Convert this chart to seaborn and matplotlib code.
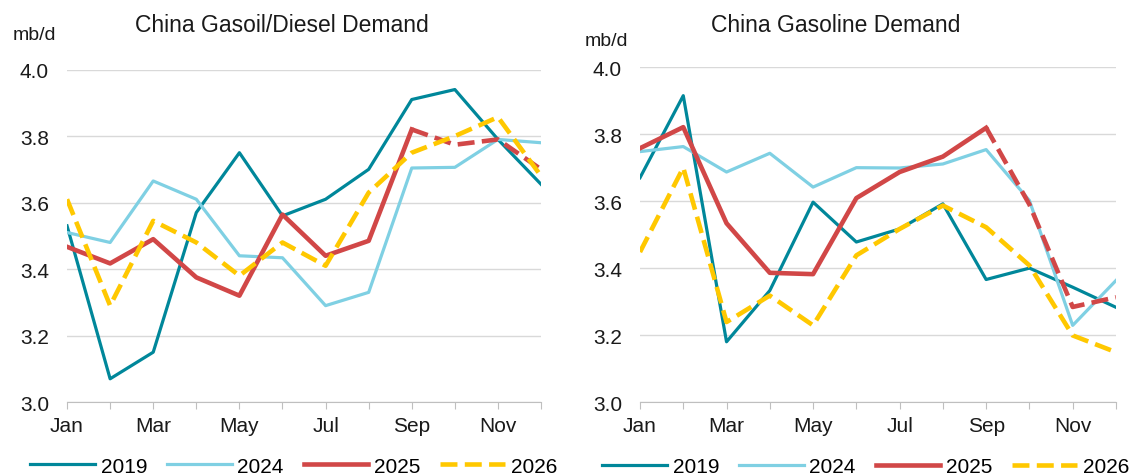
import numpy as np
import pandas as pd
import matplotlib
matplotlib.use("Agg")
import matplotlib.pyplot as plt
import seaborn as sns

# Data (mb/d)
months = ["Jan", "Feb", "Mar", "Apr", "May", "Jun", "Jul", "Aug", "Sep", "Oct", "Nov", "Dec"]
years = ["2019", "2024", "2025", "2026"]

diesel_2019 = [3.53, 3.07, 3.15, 3.57, 3.75, 3.56, 3.61, 3.70, 3.91, 3.94, 3.79, 3.655]
diesel_2024 = [3.51, 3.48, 3.665, 3.61, 3.44, 3.434, 3.29, 3.33, 3.704, 3.706, 3.79, 3.78]
diesel_2025 = [3.467, 3.417, 3.49, 3.375, 3.32, 3.564, 3.44, 3.485, 3.82, 3.774, 3.79, 3.70]
diesel_2026 = [3.61, 3.29, 3.545, 3.48, 3.38, 3.48, 3.41, 3.63, 3.75, 3.80, 3.857, 3.68]

gasoline_2019 = [3.67, 3.915, 3.18, 3.333, 3.597, 3.478, 3.517, 3.592, 3.366, 3.40, 3.343, 3.283]
gasoline_2024 = [3.748, 3.763, 3.687, 3.743, 3.642, 3.70, 3.699, 3.711, 3.754, 3.602, 3.229, 3.363]
gasoline_2025 = [3.758, 3.821, 3.534, 3.386, 3.382, 3.609, 3.687, 3.733, 3.819, 3.59, 3.284, 3.313]
gasoline_2026 = [3.448, 3.70, 3.239, 3.318, 3.229, 3.438, 3.517, 3.587, 3.522, 3.408, 3.199, 3.149]

last_actual = 8  # 2025 is actual up to Sep, forecast afterwards

colors = {"2019": "#00879A", "2024": "#7FD0E3", "2025": "#D14747", "2026": "#FFC800"}

plt.rcParams["font.family"] = ["Liberation Sans", "DejaVu Sans"]

fig = plt.figure(figsize=(11.4, 4.77), dpi=100)
ax1 = fig.add_axes([0.0588, 0.155, 0.4158, 0.697])
ax2 = fig.add_axes([0.5614, 0.155, 0.4175, 0.702])


def draw(ax, s2019, s2024, s2025, s2026, title, title_x, unit_x, unit_y, leg_x):
    x = np.arange(len(months))
    sns.lineplot(x=x, y=s2019, ax=ax, color=colors["2019"], lw=2.3, label="2019")
    sns.lineplot(x=x, y=s2024, ax=ax, color=colors["2024"], lw=2.3, label="2024")
    sns.lineplot(x=x[:last_actual + 1], y=s2025[:last_actual + 1], ax=ax,
                 color=colors["2025"], lw=3.3, label="2025")
    sns.lineplot(x=x[last_actual:], y=s2025[last_actual:], ax=ax,
                 color=colors["2025"], lw=3.3, dashes=(2.6, 1.4), linestyle="--")
    sns.lineplot(x=x, y=s2026, ax=ax, color=colors["2026"], lw=3.3,
                 linestyle="--", dashes=(4.3, 2.6), label="2026")

    ax.set_xlim(0, 11)
    ax.set_ylim(3.0, 4.0)
    ax.set_yticks([3.0, 3.2, 3.4, 3.6, 3.8, 4.0])
    ax.set_yticklabels(["3.0", "3.2", "3.4", "3.6", "3.8", "4.0"])
    ax.set_xticks(x)
    ax.set_xticklabels([m if i % 2 == 0 else "" for i, m in enumerate(months)])
    ax.tick_params(axis="y", length=0, pad=13, labelsize=15, colors="#1a1a1a")
    ax.tick_params(axis="x", length=5, color="#BFBFBF", pad=5, labelsize=15,
                   labelcolor="#1a1a1a")
    ax.grid(axis="y", color="#D9D9D9", lw=1)
    ax.set_axisbelow(True)
    for side in ["top", "right", "left"]:
        ax.spines[side].set_visible(False)
    ax.spines["bottom"].set_color("#BFBFBF")
    ax.set_xlabel("")
    ax.set_ylabel("")

    handles, labels = ax.get_legend_handles_labels()
    ax.legend(handles, labels, loc="center", bbox_to_anchor=(leg_x, -0.193), ncol=4,
              frameon=False, fontsize=15, handlelength=3.1, handletextpad=0.28,
              columnspacing=0.95, borderpad=0.1, borderaxespad=0)

    fig.text(title_x, 0.946, title, ha="center", va="center", fontsize=16.5, color="#1a1a1a")
    fig.text(unit_x, unit_y, "mb/d", ha="left", va="center", fontsize=14, color="#1a1a1a")


draw(ax1, diesel_2019, diesel_2024, diesel_2025, diesel_2026,
     "China Gasoil/Diesel Demand", 0.247, 0.011, 0.925, 0.478)
draw(ax2, gasoline_2019, gasoline_2024, gasoline_2025, gasoline_2026,
     "China Gasoline Demand", 0.733, 0.513, 0.913, 0.474)

fig.savefig("out.png", dpi=100)
